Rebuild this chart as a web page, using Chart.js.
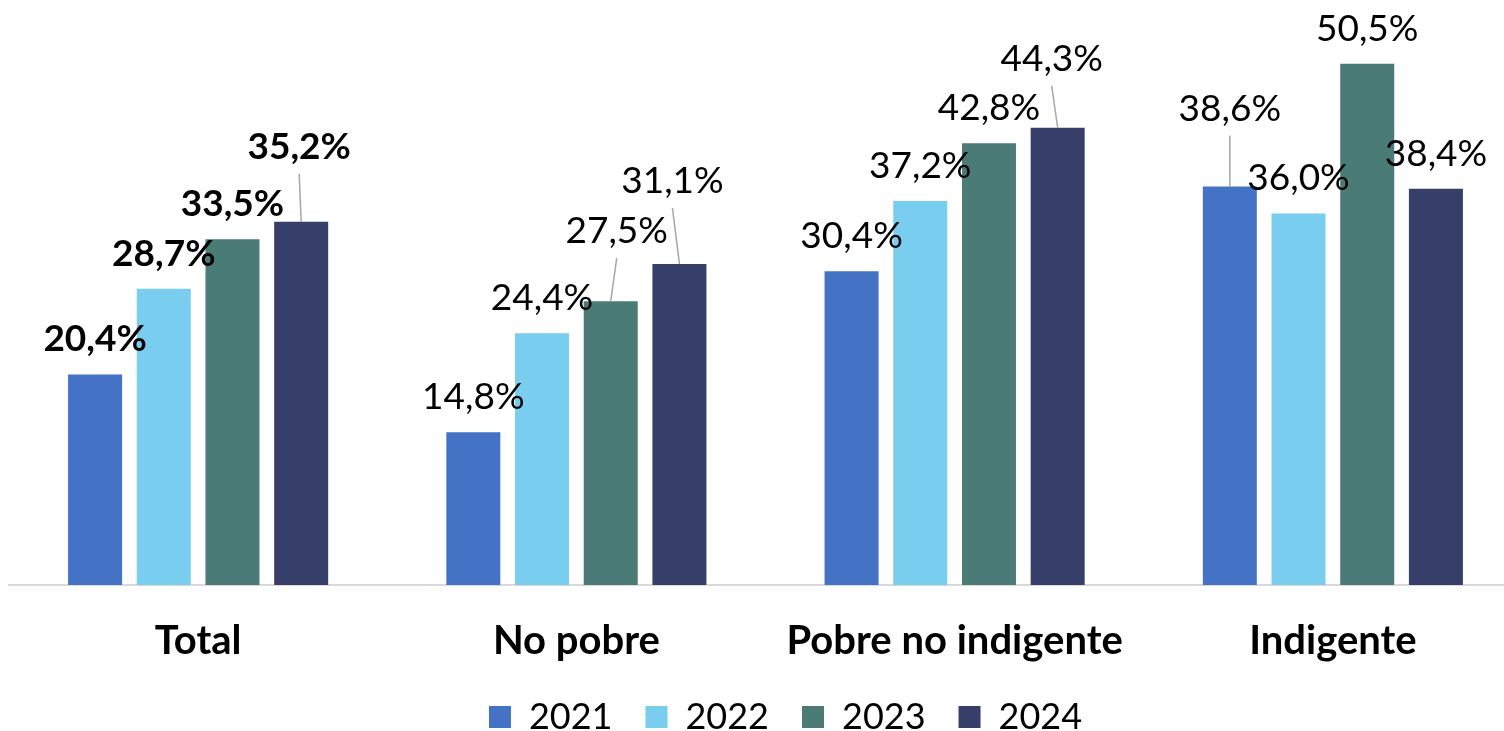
<!DOCTYPE html>
<html>
<head>
<meta charset="utf-8">
<script src="https://cdn.jsdelivr.net/npm/chart.js@4.4.0/dist/chart.umd.min.js"></script>
<style>
  html, body { margin: 0; padding: 0; background: #fff; overflow: hidden; }
  #wrap { width: 1504px; height: 731px; overflow: hidden; position: relative; }
  #box { position: absolute; left: 0; top: 0; width: 1530px; height: 748px; }
</style>
</head>
<body>
<div id="wrap"><div id="box"><canvas id="pctChart"></canvas></div></div>
<script>
const categories = ["Total", "No pobre", "Pobre no indigente", "Indigente"];
const years = ["2021", "2022", "2023", "2024"];
const values2021 = [20.4, 14.8, 30.4, 38.6];
const values2022 = [28.7, 24.4, 37.2, 36.0];
const values2023 = [33.5, 27.5, 42.8, 50.5];
const values2024 = [35.2, 31.1, 44.3, 38.4];
const barColors = ["#4472C4", "#79CEEF", "#4A7B77", "#363F69"];

// labels that were dragged off their bar, with a leader line back to it
const labelMoves = {
  "3-0": { dx: -2, dy: -40, line: true },
  "2-1": { dx: 6, dy: -35, line: true },
  "3-1": { dx: -7, dy: -48, line: true },
  "3-2": { dx: -6, dy: -34, line: true },
  "0-3": { dx: 0, dy: -43, line: true },
};

const barLabels = {
  id: "barLabels",
  afterDatasetsDraw(chart) {
    const ctx = chart.ctx;
    ctx.save();
    chart.data.datasets.forEach((ds, i) => {
      const meta = chart.getDatasetMeta(i);
      meta.data.forEach((bar, j) => {
        const move = labelMoves[i + "-" + j] || { dx: 0, dy: 0 };
        const cx = bar.x + move.dx;
        const cy = bar.y - 36 + move.dy;
        if (move.line) {
          ctx.strokeStyle = "#A6A6A6";
          ctx.lineWidth = 1.5;
          ctx.beginPath();
          ctx.moveTo(cx, cy + 28);
          ctx.lineTo(bar.x, bar.y);
          ctx.stroke();
        }
        ctx.font = (j === 0 ? "bold " : "") + "37px Lato";
        ctx.fillStyle = "#000";
        ctx.textAlign = "center";
        ctx.textBaseline = "alphabetic";
        ctx.fillText(ds.data[j].toFixed(1).replace(".", ",") + "%", cx, cy + 13);
      });
    });
    ctx.restore();
  },
};

const legendShift = {
  id: "legendShift",
  afterLayout(chart) {
    chart.legend.left += 20;
    chart.legend.right += 20;
  },
};

const ctx = document.getElementById("pctChart").getContext("2d");

new Chart(ctx, {
  type: "bar",
  data: {
    labels: categories,
    datasets: [
      { label: years[0], data: values2021, backgroundColor: barColors[0] },
      { label: years[1], data: values2022, backgroundColor: barColors[1] },
      { label: years[2], data: values2023, backgroundColor: barColors[2] },
      { label: years[3], data: values2024, backgroundColor: barColors[3] },
    ],
  },
  options: {
    responsive: true,
    maintainAspectRatio: false,
    animation: false,
    barPercentage: 0.786,
    categoryPercentage: 0.7265,
    layout: { padding: { left: 9, right: 8, top: 7, bottom: 3 } },
    scales: {
      x: {
        grid: { display: false, drawTicks: false },
        border: { color: "#D9D9D9", width: 2 },
        ticks: {
          color: "#000",
          padding: 32,
          font: { family: "Lato", size: 40, weight: "bold" },
        },
        afterFit(scale) {
          scale.height = 81;
        },
      },
      y: {
        display: false,
        min: 0,
        max: 56,
      },
    },
    plugins: {
      legend: {
        position: "bottom",
        labels: {
          boxWidth: 22,
          boxHeight: 22,
          padding: 33,
          color: "#000",
          font: { family: "Lato", size: 36 },
        },
      },
      tooltip: { enabled: false },
    },
  },
  plugins: [barLabels, legendShift],
});
</script>
</body>
</html>
